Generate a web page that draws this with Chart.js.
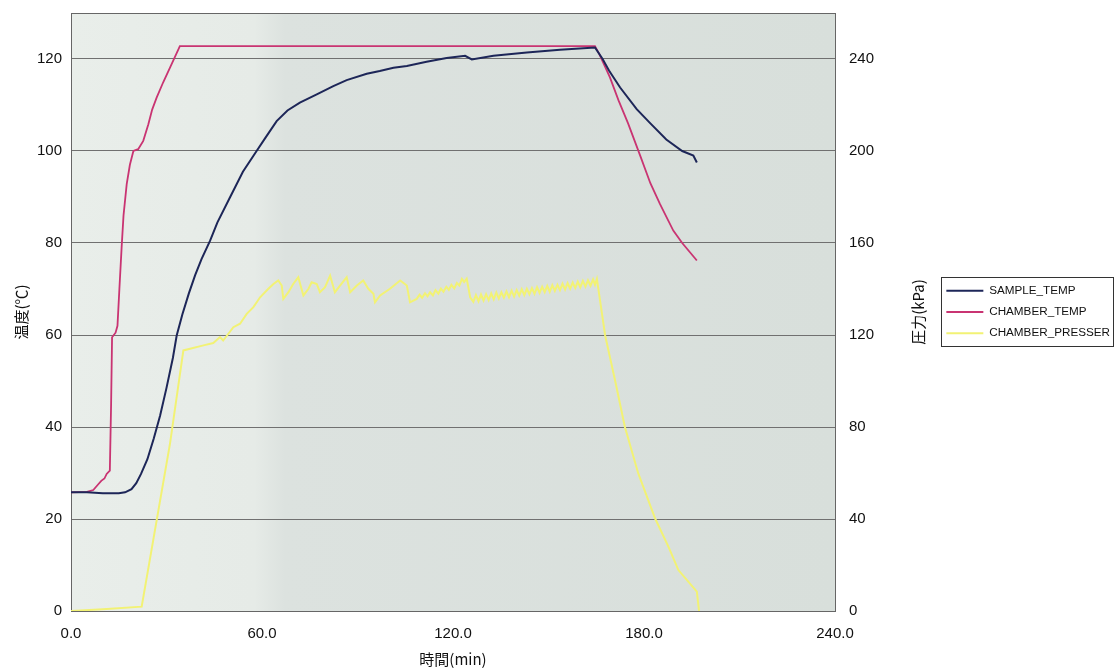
<!DOCTYPE html>
<html lang="ja">
<head>
<meta charset="utf-8">
<title>温度・圧力</title>
<script src="https://cdn.jsdelivr.net/npm/chart.js@4.4.0/dist/chart.umd.min.js"></script>
<style>
  html, body { margin: 0; padding: 0; background: #fff; }
  #chart { display: block; }
</style>
</head>
<body>
<canvas id="chart" width="1115" height="668"></canvas>
<script>
// 時間 (min) / 値
const sampleTime = [0, 5, 10, 15, 17, 19, 20.5, 22, 24, 26, 28, 30, 32, 33.2, 35, 37, 39, 41, 43.7, 46, 50, 54, 58.3, 61, 64.6, 68, 71.9, 77.2, 82.4, 86.6, 92.9, 97, 101.3, 105.5, 111.7, 118, 123.8, 125.9, 132.7, 143.2, 153.6, 164.6, 167, 169, 172.5, 177.7, 182, 187, 192, 195.5, 196.6];
const sampleTemp = [25.8, 25.8, 25.6, 25.6, 25.8, 26.5, 27.8, 29.8, 33, 37.5, 42.5, 48.5, 55, 59.9, 64.5, 69, 73, 76.5, 80.5, 84.5, 90, 95.5, 100, 102.8, 106.5, 108.8, 110.5, 112.3, 114.1, 115.4, 116.8, 117.4, 118.1, 118.5, 119.4, 120.2, 120.7, 119.9, 120.7, 121.4, 122, 122.5, 120, 117.5, 113.8, 109.1, 106, 102.5, 100, 99, 97.5];

const chamberTime = [0, 5, 7, 8.5, 9.5, 10.5, 11.2, 12.2, 12.6, 12.9, 14, 14.6, 15.2, 15.9, 16.5, 17.5, 18.5, 19.6, 21.1, 22.7, 24.3, 25.5, 26.9, 29, 31.1, 34.2, 164.6, 166, 169.3, 172, 175, 178.8, 182, 185, 189.2, 192, 196.6];
const chamberTemp = [25.8, 25.9, 26.3, 27.5, 28.3, 28.8, 29.8, 30.5, 45, 59.5, 60.5, 62, 70, 79, 86, 92.8, 97, 100, 100.4, 102.2, 105.8, 109, 111.6, 115, 118.1, 122.8, 122.8, 121, 116, 111, 106, 99, 93, 88.5, 82.7, 80, 76.2];

const pressTime = [0, 10, 22.2, 31.1, 35.3, 37.4, 41.6, 44.7, 46.8, 47.8, 51, 53.1, 55.2, 57.3, 59.4, 62, 63.6, 65.1, 66.2, 66.7, 68.3, 69.8, 71.4, 73, 74.6, 75.6, 77.2, 78.2, 79.8, 81.4, 82.9, 84.5, 86.6, 87.7, 89.8, 91.8, 93.4, 95, 95.5, 97.1, 100.2, 103.4, 105.5, 106.5, 108.6, 109.5, 110.3, 111.2, 112, 112.8, 113.7, 114.5, 115.4, 116.2, 117, 117.9, 118.7, 119.5, 120.4, 121.2, 122, 122.8, 123.5, 124.3, 125.4, 126.4, 127.2, 128, 128.8, 129.6, 130.4, 131.2, 132, 132.8, 133.6, 134.4, 135.2, 136, 136.8, 137.6, 138.4, 139.2, 140, 140.8, 141.6, 142.4, 143.2, 144, 144.8, 145.6, 146.4, 147.2, 148, 148.8, 149.6, 150.4, 151.2, 152, 152.8, 153.6, 154.4, 155.2, 156, 156.8, 157.6, 158.4, 159.2, 160, 160.8, 161.6, 162.4, 163.2, 164, 164.6, 165.2, 167.8, 170.9, 174, 178.2, 183.5, 187.7, 190.8, 196.6, 197.3];
const pressKpa = [0, 0.8, 1.9, 72.8, 113.3, 114, 115.5, 116.5, 119.1, 117.6, 123.4, 124.9, 129.2, 132.1, 136.4, 140.1, 142.2, 143.7, 141.5, 135.7, 138.6, 142.2, 145.1, 137.2, 140.1, 142.9, 142.2, 138.6, 140.8, 145.8, 138.6, 141.5, 145.1, 138.6, 141.5, 143.7, 140.1, 137.9, 134.2, 137.2, 140.1, 143.7, 141.5, 134.2, 135.7, 137.5, 136.2, 138.2, 136.8, 138.6, 137.2, 139.5, 138, 140.2, 138.8, 141, 139.6, 141.8, 140.3, 142.6, 141.5, 144.4, 143, 144.5, 136.4, 134.4, 137.4, 134.7, 137.6, 135, 137.8, 135.2, 138.1, 135.5, 138.5, 135.8, 138.6, 136.2, 139, 136.4, 139.3, 136.7, 139.5, 137.1, 139.9, 137.3, 140.1, 137.7, 140.4, 137.9, 140.8, 138.3, 141, 138.6, 141.4, 138.8, 141.7, 139.2, 141.9, 139.5, 142.3, 139.7, 142.6, 140.1, 142.8, 140.4, 143.2, 140.7, 143.5, 141, 143.8, 141.4, 144.2, 141.8, 144.4, 119.8, 100.3, 80, 59.8, 40.2, 27.9, 17.8, 8.4, 0];

const xTicks = [0, 60, 120, 180, 240];
const tempTicks = [0, 20, 40, 60, 80, 100, 120];
const kpaTicks = [0, 40, 80, 120, 160, 200, 240];

const toPoints = (xs, ys) => xs.map((x, i) => ({ x, y: ys[i] }));
const tickFont = { family: '"Liberation Sans", Arial, sans-serif', size: 15 };
const jpFont = { family: '"Noto Sans CJK JP", sans-serif', size: 15 };
let rightAxisWidth = 102;

// no label overflow padding: the plot box is placed by hand
const noPad = s => { s.paddingTop = 0; s.paddingBottom = 0; s.paddingLeft = 0; s.paddingRight = 0; };

const plotBackground = {
  id: 'plotBackground',
  beforeDraw(chart) {
    const { ctx, chartArea: a } = chart;
    const g = ctx.createLinearGradient(a.left, 0, a.right, 0);
    g.addColorStop(0, '#e9eeea');
    g.addColorStop(0.24, '#e6ebe7');
    g.addColorStop(0.28, '#dce2df');
    g.addColorStop(1, '#d8dfdb');
    ctx.save();
    ctx.fillStyle = g;
    ctx.fillRect(a.left, a.top, a.right - a.left, a.bottom - a.top);
    ctx.restore();
  },
  beforeDatasetsDraw(chart) {
    const { ctx, chartArea: a } = chart;
    ctx.save();
    ctx.strokeStyle = '#666';
    ctx.lineWidth = 1;
    ctx.strokeRect(Math.round(a.left) + 0.5, Math.round(a.top) + 0.5, Math.round(a.right - a.left), Math.round(a.bottom - a.top));
    ctx.restore();
  }
};

// legend frame + right axis title (reads bottom to top like the left one)
const extras = {
  id: 'extras',
  afterDraw(chart) {
    const { ctx, chartArea: a } = chart;
    const boxes = chart.legend?.legendHitBoxes || [];
    ctx.save();
    if (boxes.length) {
      const l = Math.min(...boxes.map(b => b.left)) - 5;
      const t = Math.min(...boxes.map(b => b.top)) - 8;
      const r = Math.max(...boxes.map(b => b.left + b.width)) + 3;
      const btm = Math.max(...boxes.map(b => b.top + b.height)) + 7;
      ctx.strokeStyle = '#333';
      ctx.lineWidth = 1;
      ctx.strokeRect(Math.round(l) + 0.5, Math.round(t) + 0.5, Math.round(r - l), Math.round(btm - t));
    }
    ctx.translate(a.right + 83, (a.top + a.bottom) / 2);
    ctx.rotate(-Math.PI / 2);
    ctx.fillStyle = '#111';
    ctx.font = `${jpFont.size}px ${jpFont.family}`;
    ctx.textAlign = 'center';
    ctx.textBaseline = 'middle';
    ctx.fillText('圧力(kPa)', 0, 0);
    ctx.restore();
  }
};

const chart = new Chart(document.getElementById('chart'), {
  type: 'line',
  data: {
    datasets: [
      { label: 'SAMPLE_TEMP', data: toPoints(sampleTime, sampleTemp), borderColor: '#1d2658', backgroundColor: '#1d2658', borderWidth: 2, yAxisID: 'y' },
      { label: 'CHAMBER_TEMP', data: toPoints(chamberTime, chamberTemp), borderColor: '#c93472', backgroundColor: '#c93472', borderWidth: 1.8, yAxisID: 'y' },
      { label: 'CHAMBER_PRESSER', data: toPoints(pressTime, pressKpa), borderColor: '#f2f274', backgroundColor: '#f2f274', borderWidth: 2, yAxisID: 'yR' }
    ]
  },
  options: {
    responsive: false,
    animation: false,
    parsing: false,
    elements: { point: { radius: 0 }, line: { tension: 0 } },
    layout: { autoPadding: false, padding: { top: 13, left: 0, right: -5, bottom: 0 } },
    plugins: {
      tooltip: { enabled: false },
      legend: {
        position: 'right',
        fullSize: false,
        labels: {
          usePointStyle: true,
          pointStyle: 'line',
          pointStyleWidth: 37,
          padding: 9.5,
          color: '#111',
          font: { family: '"Liberation Sans", Arial, sans-serif', size: 11.7 }
        }
      }
    },
    scales: {
      x: {
        type: 'linear',
        min: 0,
        max: 240,
        afterBuildTicks: s => { s.ticks = xTicks.map(value => ({ value })); },
        afterFit: s => { s.height = 57; noPad(s); },
        grid: { display: false, drawTicks: false },
        border: { display: false },
        ticks: { padding: 14, color: '#111', font: tickFont, maxRotation: 0, callback: v => v.toFixed(1) },
        title: { display: true, text: '時間(min)', color: '#111', font: jpFont, padding: { top: 2, bottom: 0 } }
      },
      y: {
        position: 'left',
        min: 0,
        max: 130,
        afterBuildTicks: s => { s.ticks = tempTicks.map(value => ({ value })); },
        afterFit: s => { s.width = 71; noPad(s); },
        grid: { color: '#707070', lineWidth: 1, drawTicks: false },
        border: { display: false },
        ticks: { padding: 9, color: '#111', font: tickFont },
        title: { display: true, text: '温度(℃)', color: '#111', font: jpFont, padding: { top: 12, bottom: 0 } }
      },
      yR: {
        position: 'right',
        min: 0,
        max: 260,
        afterBuildTicks: s => { s.ticks = kpaTicks.map(value => ({ value })); },
        afterFit: s => { s.width = rightAxisWidth; noPad(s); },
        grid: { display: false, drawTicks: false },
        border: { display: false },
        ticks: { padding: 14, color: '#111', font: tickFont }
      }
    }
  },
  plugins: [plotBackground, extras]
});

// pin the plot's right edge to where the original has it
rightAxisWidth += chart.chartArea.right - 835;
chart.update();
</script>
</body>
</html>
